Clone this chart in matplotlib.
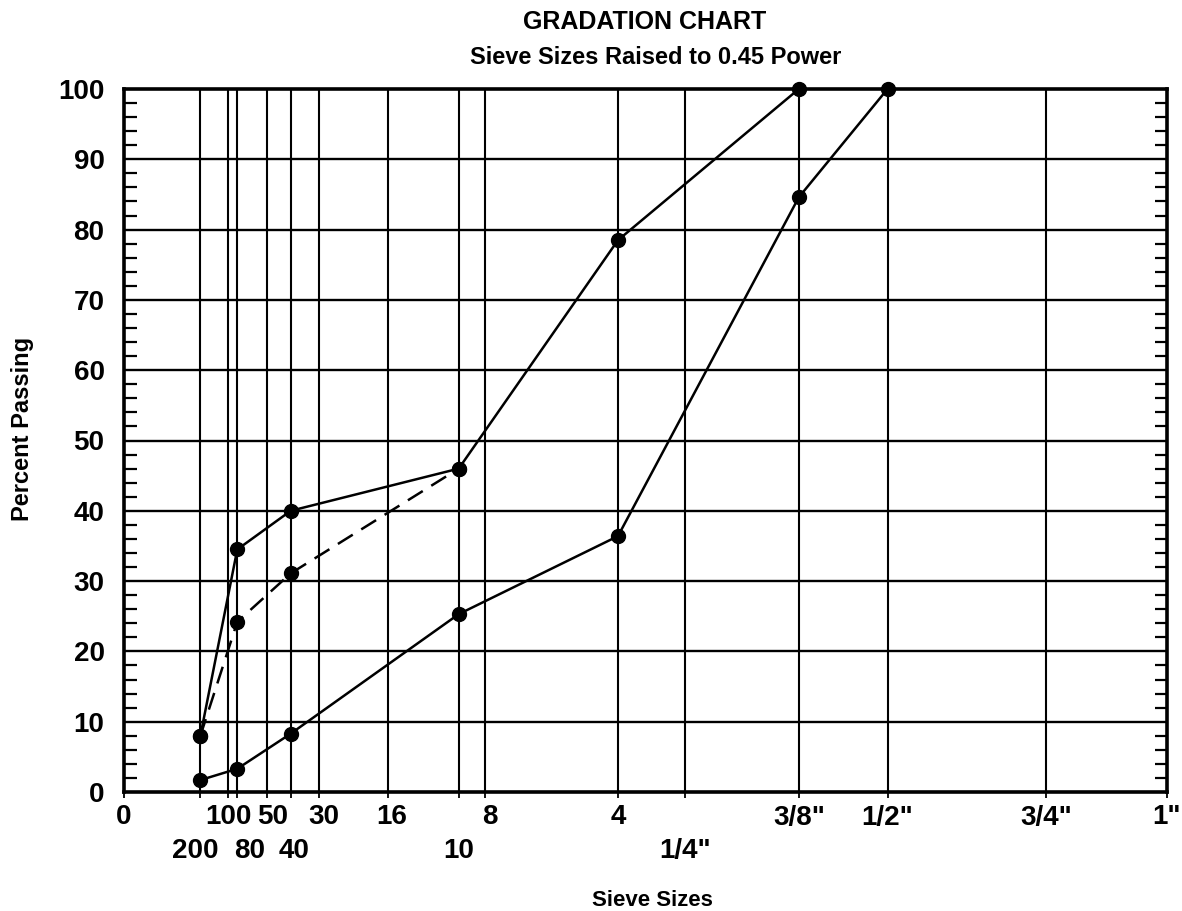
import matplotlib
matplotlib.use("Agg")
import matplotlib.pyplot as plt
import numpy as np
from matplotlib.ticker import MultipleLocator
from matplotlib.transforms import ScaledTranslation

plt.rcParams['font.family'] = ['Liberation Sans', 'DejaVu Sans']
plt.rcParams['font.weight'] = 'bold'

# sieve openings in mm, row 1 labels and row 2 labels
row1_labels = ['0', '100', '50', '30', '16', '8', '4', '3/8"', '1/2"', '3/4"', '1"']
row1_sizes = [0.0, 0.15, 0.30, 0.60, 1.18, 2.36, 4.75, 9.5, 12.5, 19.0, 25.0]
row2_labels = ['200', '80', '40', '10', '1/4"']
row2_sizes = [0.075, 0.18, 0.425, 2.0, 6.3]

# gradation curves (sieve size mm, percent passing)
upper_sizes = [0.075, 0.18, 0.425, 2.0, 4.75, 9.5]
upper_pass = [8.0, 34.5, 40.0, 46.0, 78.5, 100.0]

mid_sizes = [0.075, 0.18, 0.425, 2.0]
mid_pass = [8.0, 24.2, 31.1, 46.0]

lower_sizes = [0.075, 0.18, 0.425, 2.0, 4.75, 9.5, 12.5]
lower_pass = [1.7, 3.3, 8.3, 25.3, 36.4, 84.6, 100.0]

POW = 0.45


def pw(v):
    return np.array(v, dtype=float) ** POW


fig = plt.figure(figsize=(11.82, 9.11), dpi=100)
W, H = 1182, 911
ax = fig.add_axes([124 / W, (H - 792) / H, 1043 / W, 703 / H])

ax.set_xlim(0, 25.0 ** POW)
ax.set_ylim(0, 100)

# vertical grid at every sieve
for s in row1_sizes[1:-1] + row2_sizes:
    ax.axvline(s ** POW, color='black', lw=1.5, zorder=1)
# horizontal grid every 10%
for yv in range(10, 100, 10):
    ax.axhline(yv, color='black', lw=1.7, zorder=1)

ax.plot(pw(upper_sizes), upper_pass, color='black', lw=1.8, marker='o',
        markersize=10, zorder=3, clip_on=False)
ax.plot(pw(mid_sizes), mid_pass, color='black', lw=1.8, ls=(0, (7, 4)),
        marker='o', markersize=10, zorder=3, clip_on=False)
ax.plot(pw(lower_sizes), lower_pass, color='black', lw=1.8, marker='o',
        markersize=10, zorder=3, clip_on=False)

for sp in ax.spines.values():
    sp.set_linewidth(2.6)

# x ticks: two rows of labels
ax.set_xticks(pw(row1_sizes))
ax.set_xticklabels(row1_labels, fontsize=20)
ax.set_xticks(pw(row2_sizes), minor=True)
ax.set_xticklabels(row2_labels, minor=True, fontsize=20)
ax.tick_params(axis='x', which='major', direction='out', length=4, width=1.3, pad=5)
ax.tick_params(axis='x', which='minor', direction='out', length=4, width=1.3, pad=29)

# nudge crowded labels sideways (pixels), like the hand-set original
row1_nudge = {'50': 6, '30': 5, '16': 4, '8': 5}
row2_nudge = {'200': -5, '80': 12, '40': 3}
for lab in ax.get_xticklabels():
    dx = row1_nudge.get(lab.get_text(), 0)
    lab.set_transform(lab.get_transform() + ScaledTranslation(dx / 100, 0, fig.dpi_scale_trans))
for lab in ax.get_xticklabels(minor=True):
    dx = row2_nudge.get(lab.get_text(), 0)
    lab.set_transform(lab.get_transform() + ScaledTranslation(dx / 100, 0, fig.dpi_scale_trans))

# y ticks
ax.set_yticks(range(0, 101, 10))
ax.tick_params(axis='y', which='major', length=0, pad=14, labelsize=20)
ax.yaxis.set_minor_locator(MultipleLocator(2))
ax.tick_params(axis='y', which='minor', direction='in', length=9, width=1.6,
               left=True, right=True)

fig.text(645 / W, 1 - 22 / H, 'GRADATION CHART', ha='center', va='center', fontsize=18)
fig.text(656 / W, 1 - 58 / H, 'Sieve Sizes Raised to 0.45 Power', ha='center',
         va='center', fontsize=17)
fig.text(652 / W, 1 - 900 / H, 'Sieve Sizes', ha='center', va='center', fontsize=16)
fig.text(23 / W, 1 - 429 / H, 'Percent Passing', ha='center', va='center',
         rotation=90, fontsize=17)

fig.savefig('out.png', dpi=100)
